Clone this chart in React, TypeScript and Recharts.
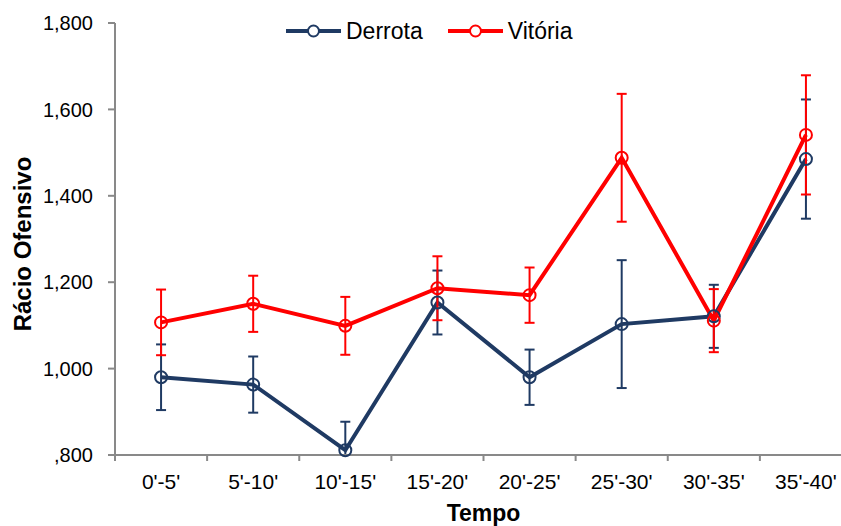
import { LineChart, Line, XAxis, YAxis, ErrorBar, Legend } from "recharts";

const categories = ["0'-5'", "5'-10'", "10'-15'", "15'-20'", "20'-25'", "25'-30'", "30'-35'", "35'-40'"];
const derrota = [0.98, 0.963, 0.811, 1.153, 0.98, 1.103, 1.121, 1.485];
const derrotaErr = [0.076, 0.065, 0.066, 0.074, 0.064, 0.148, 0.073, 0.138];
const vitoria = [1.107, 1.15, 1.099, 1.186, 1.17, 1.488, 1.111, 1.541];
const vitoriaErr = [0.076, 0.065, 0.067, 0.074, 0.064, 0.148, 0.073, 0.138];
const yTicks = [0.8, 1.0, 1.2, 1.4, 1.6, 1.8];
const Y_MIN = 0.8;

const NAVY = "#1f3a63";
const RED = "#ff0000";
const AXIS = "#898989";
const FONT = "'Liberation Sans', Arial, sans-serif";

const CHART_W = 870;
const CHART_H = 526;
const MARGIN = { top: 23, right: 18, bottom: 0, left: 0 };
const Y_AXIS_W = 115;
const X_AXIS_H = 71;
const BAND = (CHART_W - MARGIN.left - MARGIN.right - Y_AXIS_W) / categories.length;
const AXIS_Y = CHART_H - MARGIN.bottom - X_AXIS_H;

// error bars are cut at the bottom of the value axis, as in the original
const errRange = (v: number, e: number) => [Math.min(e, v - Y_MIN), e];

const data = categories.map((c, i) => ({
  name: c,
  derrota: derrota[i],
  derrotaErr: errRange(derrota[i], derrotaErr[i]),
  vitoria: vitoria[i],
  vitoriaErr: errRange(vitoria[i], vitoriaErr[i]),
}));

const fmt = (v: number) => v.toFixed(3).replace(".", ",").replace(/^0/, "");

function XTick(props: any) {
  const { x, index } = props;
  const last = index === categories.length - 1;
  return (
    <g>
      <line x1={x - BAND / 2} x2={x - BAND / 2} y1={AXIS_Y} y2={AXIS_Y + 6} stroke={AXIS} strokeWidth={2} />
      {last && <line x1={x + BAND / 2} x2={x + BAND / 2} y1={AXIS_Y} y2={AXIS_Y + 6} stroke={AXIS} strokeWidth={2} />}
      <text x={x} y={AXIS_Y + 34} textAnchor="middle" fontSize={21} fontFamily={FONT} fill="#000">
        {props.payload.value}
      </text>
    </g>
  );
}

function LegendBox() {
  const items = [
    { label: "Derrota", color: NAVY },
    { label: "Vitória", color: RED },
  ];
  return (
    <div style={{ display: "flex", alignItems: "center", height: 26, lineHeight: "26px", fontSize: 23, fontFamily: FONT, color: "#000" }}>
      {items.map((it) => (
        <div key={it.label} style={{ display: "flex", alignItems: "center", marginRight: 25 }}>
          <svg width={55} height={16}>
            <line x1={0} x2={55} y1={8} y2={8} stroke={it.color} strokeWidth={4} />
            <circle cx={27.5} cy={8} r={5.5} fill="#fff" stroke={it.color} strokeWidth={2} />
          </svg>
          <span style={{ marginLeft: 5 }}>{it.label}</span>
        </div>
      ))}
    </div>
  );
}

export default function App() {
  return (
    <div style={{ position: "absolute", left: 0, top: 0, width: 841, height: 526, overflow: "hidden", background: "#fff", fontFamily: FONT }}>
      <LineChart width={CHART_W} height={CHART_H} data={data} margin={MARGIN}>
        <XAxis
          dataKey="name"
          scale="band"
          height={X_AXIS_H}
          stroke={AXIS}
          strokeWidth={2}
          tickLine={false}
          interval={0}
          tick={<XTick />}
          label={{ value: "Tempo", position: "insideBottom", offset: 5, fontSize: 23, fontWeight: "bold", fill: "#000", fontFamily: FONT }}
        />
        <YAxis
          width={Y_AXIS_W}
          domain={[0.8, 1.8]}
          ticks={yTicks}
          interval={0}
          allowDataOverflow
          stroke={AXIS}
          strokeWidth={2}
          tickSize={7}
          tickMargin={15}
          tickFormatter={fmt}
          tick={{ fontSize: 20, fill: "#000", fontFamily: FONT }}
          label={{ value: "Rácio Ofensivo", angle: -90, position: "center", dx: -35, dy: 5, fontSize: 24, fontWeight: "bold", fill: "#000", fontFamily: FONT }}
        />
        <Legend verticalAlign="middle" align="center" content={<LegendBox />} wrapperStyle={{ top: 18, left: 286, width: 320 }} />
        <Line
          dataKey="derrota"
          stroke={NAVY}
          strokeWidth={4}
          dot={{ r: 6, fill: "none", stroke: NAVY, strokeWidth: 2, clipDot: false }}
          activeDot={false}
          isAnimationActive={false}
        >
          <ErrorBar dataKey="derrotaErr" width={5} stroke={NAVY} strokeWidth={2} direction="y" />
        </Line>
        <Line
          dataKey="vitoria"
          stroke={RED}
          strokeWidth={4}
          dot={{ r: 6, fill: "none", stroke: RED, strokeWidth: 2, clipDot: false }}
          activeDot={false}
          isAnimationActive={false}
        >
          <ErrorBar dataKey="vitoriaErr" width={5} stroke={RED} strokeWidth={2} direction="y" />
        </Line>
      </LineChart>
    </div>
  );
}
